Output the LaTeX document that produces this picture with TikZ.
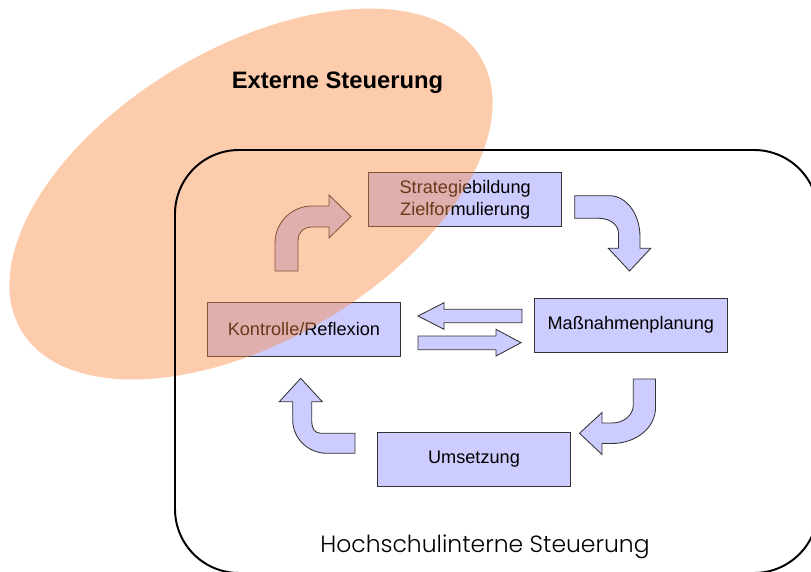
\documentclass[tikz,border=0pt]{standalone}
\usepackage{xcolor}
\usepackage{tikz}
\usepackage{fontspec}
\setmainfont{Liberation Sans}
\newfontfamily\thinfont{Poppins Light}
\usetikzlibrary{arrows,shapes}
\definecolor{boxblue}{RGB}{204,204,255}
\definecolor{extorange}{RGB}{250,135,60}

\tikzset{
  stepbox/.style={draw=black!80, line width=0.7pt, fill=boxblue,
    minimum width=4.825cm, minimum height=1.35cm, inner sep=0pt,
    align=center, font=\fontsize{12.9}{15.8}\selectfont},
  flow/.style={draw=black!80, line width=0.6pt, fill=boxblue},
}

\begin{document}
\begin{tikzpicture}[x=0.025cm, y=-0.025cm]
        \path[use as bounding box] (0,0) rectangle (811,572);
        \clip (0,0) rectangle (811,572);
        \fill[white] (0,0) rectangle (811,572);
        % the four steps
        \node[stepbox] (strat) at (465.2,199.7) {Strategiebildung\\Zielformulierung};
        \node[stepbox] (kontr) at (303.9,329.5) {Kontrolle/Reflexion};
        \node[stepbox] (mass) at (630.8,325.2) {Maßnahmenplanung};
        \node[stepbox] (umsetz) at (474,459.4) {Umsetzung};
        % bent arrows round the cycle
        \draw[flow] (275,271) -- (275,243) .. controls (275,222.6) and (291.6,206) .. (312,206)
            -- (329,206) -- (329,195) -- (351,216.5) -- (329,238) -- (329,227) -- (311,227)
            .. controls (303.8,227) and (298,232.8) .. (298,240) -- (298,271) -- cycle;
        \draw[flow] (574.7,195.7) -- (609.5,195.7) .. controls (626.3,195.7) and (640,214.1) .. (640,236.7)
            -- (640,248.3) -- (650.8,248.3) -- (629.5,271) -- (608.3,248.3) -- (618.5,248.3) -- (618.5,233)
            .. controls (618.5,224.9) and (609.8,218.3) .. (599,218.3) -- (574.7,218.3) -- cycle;
        \draw[flow] (633.3,379) -- (655.5,379) -- (655.5,408) .. controls (655.5,427.6) and (636,443.5) .. (612,443.5)
            -- (602,443.5) -- (602,454.5) -- (579.5,433.3) -- (602,412.5) -- (602,423) -- (612,423)
            .. controls (624,423) and (633.3,415) .. (633.3,405) -- cycle;
        \draw[flow] (355,453.3) -- (327,453.3) .. controls (308.1,453.3) and (292.7,438.4) .. (292.7,420)
            -- (292.7,401.7) -- (279.3,401.7) -- (300.7,378.3) -- (322.3,401.7) -- (311.7,401.7) -- (311.7,421)
            .. controls (311.7,428.2) and (314.5,433.3) .. (321,433.3) -- (355,433.3) -- cycle;
        % back and forth
        \draw[flow] (522,309.3) -- (444,309.3) -- (444,302.7) -- (418,316) -- (444,329.3) -- (444,322.7) -- (522,322.7) -- cycle;
        \draw[flow] (418,336) -- (496,336) -- (496,329.3) -- (521,342.7) -- (496,356) -- (496,349.7) -- (418,349.7) -- cycle;
        % external influence
        \fill[extorange, opacity=0.42, rotate around={30.7:(251,194)}] (251,194) ellipse [x radius=267.2, y radius=146.1];
        \draw[line width=1.4pt, rounded corners=1.6cm] (175,150) rectangle (818,573);
        \node[anchor=base, font=\bfseries\fontsize{16.9}{20}\selectfont] (ext) at (337.5,88.3) {Externe Steuerung};
        \node[anchor=base, font=\thinfont\fontsize{16.7}{19}\selectfont] (hsint) at (485,552.7) {Hochschulinterne Steuerung};
    \end{tikzpicture}
\end{document}
